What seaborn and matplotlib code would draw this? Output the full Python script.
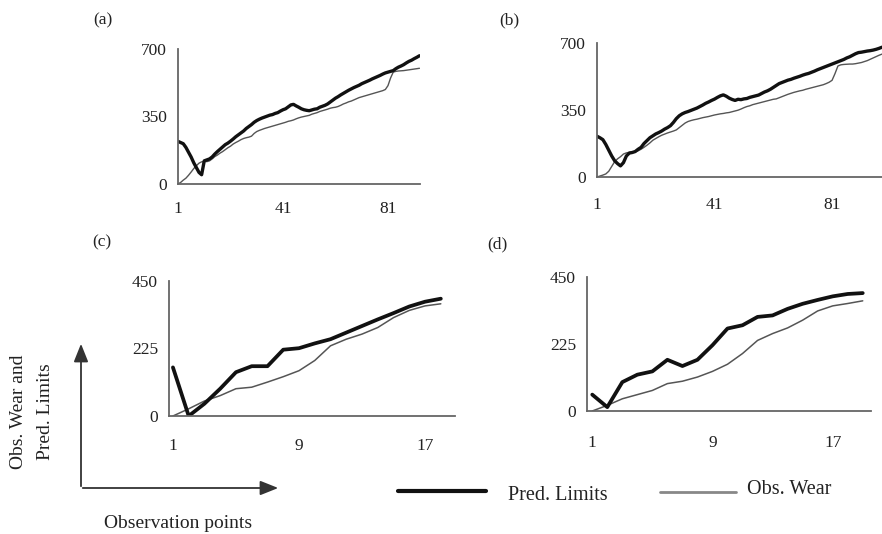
import numpy as np
import pandas as pd
import matplotlib
matplotlib.use("Agg")
import matplotlib.pyplot as plt
import seaborn as sns
from matplotlib.lines import Line2D
from matplotlib.patches import FancyArrowPatch

# ---------------- data ----------------
pred_a = [221, 215, 209, 190, 165, 140, 110, 85, 60, 48, 120, 125, 130, 140, 155, 168, 180, 192, 204, 212,
          222, 233, 245, 255, 265, 275, 288, 298, 308, 320, 329, 336, 342, 347, 352, 357, 360, 366, 370, 378,
          385, 390, 400, 410, 413, 405, 398, 390, 385, 382, 380, 384, 388, 390, 398, 403, 408, 415, 425, 435,
          445, 453, 462, 470, 478, 486, 493, 500, 506, 512, 520, 526, 532, 538, 545, 551, 557, 563, 570, 576,
          580, 584, 588, 598, 606, 612, 619, 628, 636, 642, 650, 657, 665]
obs_a = [0, 8, 20, 30, 45, 62, 80, 95, 108, 115, 117, 116, 120, 130, 142, 150, 160, 168, 178, 188,
         196, 207, 215, 222, 230, 236, 240, 243, 248, 262, 272, 278, 283, 288, 292, 296, 300, 304, 308, 312,
         316, 320, 325, 328, 332, 338, 343, 347, 350, 353, 356, 362, 366, 370, 376, 380, 384, 388, 393, 396,
         398, 402, 408, 415, 420, 426, 430, 436, 442, 448, 452, 456, 460, 464, 468, 472, 476, 480, 484, 490,
         510, 550, 580, 584, 586, 587, 588, 590, 592, 594, 596, 598, 600]

pred_b = [213, 205, 195, 170, 140, 110, 85, 70, 58, 75, 110, 125, 128, 133, 145, 155, 175, 190, 205, 215,
          225, 232, 240, 250, 258, 268, 285, 305, 320, 330, 337, 342, 348, 354, 360, 368, 376, 385, 392, 400,
          407, 416, 424, 429, 422, 412, 405, 400, 406, 404, 408, 410, 416, 420, 424, 428, 436, 444, 450, 458,
          468, 478, 488, 494, 500, 506, 510, 516, 521, 526, 532, 537, 541, 547, 553, 560, 566, 572, 578, 584,
          590, 596, 602, 608, 614, 622, 628, 636, 644, 650, 652, 655, 658, 660, 663, 667, 672, 678]
obs_b = [0, 5, 10, 16, 30, 55, 80, 95, 106, 120, 126, 129, 131, 132, 137, 145, 155, 166, 178, 192,
         201, 210, 218, 224, 230, 235, 240, 246, 258, 270, 282, 290, 295, 299, 302, 306, 310, 313, 316, 320,
         324, 327, 330, 332, 335, 337, 341, 345, 349, 355, 362, 368, 372, 378, 382, 386, 390, 394, 398, 402,
         406, 408, 414, 420, 426, 432, 437, 442, 446, 450, 453, 458, 462, 466, 470, 474, 478, 482, 488, 495,
         505, 540, 580, 586, 588, 589, 590, 590, 592, 595, 598, 603, 608, 615, 622, 629, 636, 642]

pred_c = [162, 0, 41, 91, 146, 166, 166, 221, 226, 242, 256, 278, 300, 322, 343, 365, 381, 391]
obs_c = [0, 24, 50, 68, 91, 96, 113, 131, 151, 185, 234, 256, 273, 295, 328, 352, 367, 374]

pred_d = [55, 13, 97, 122, 133, 172, 151, 172, 221, 277, 288, 316, 321, 343, 360, 373, 385, 393, 396]
obs_d = [0, 19, 41, 55, 69, 92, 100, 114, 133, 157, 193, 237, 260, 279, 305, 336, 353, 361, 370]

panel_labels = ["(a)", "(b)", "(c)", "(d)"]
yticks_ab = [0, 350, 700]
yticks_cd = [0, 225, 450]
xlabels_ab = [1, 41, 81]
xlabels_cd = [1, 9, 17]
legend_labels = ["Pred. Limits", "Obs. Wear"]
ylab_lines = ["Obs. Wear and", "Pred. Limits"]
xlab_text = "Observation points"

# ---------------- styling ----------------
sns.set_theme(style="white")
plt.rcParams['font.family'] = ['Liberation Serif', 'DejaVu Serif']

W, H = 882, 534
fig = plt.figure(figsize=(8.82, 5.34), dpi=100)


def box(l, t, r, b):
    return [l / W, 1 - b / H, (r - l) / W, (b - t) / H]


def fx(x):
    return x / W


def fy(y):
    return 1 - y / H


AX_COL = "#666666"
TXT_COL = "#222222"
PRED_COL = "#111111"
OBS_COL = "#555555"

panels = [
    dict(pred=pred_a, obs=obs_a, rect=box(178, 49, 420, 184), xlim=(1, 93.2), ylim=(0, 700),
         yt=yticks_ab, xl=xlabels_ab, xt=[1, 21, 41, 61, 81], pad=9, lw=(2.4, 1.0),
         lab=(103, 20)),
    dict(pred=pred_b, obs=obs_b, rect=box(597, 43, 882, 177), xlim=(1, 98), ylim=(0, 700),
         yt=yticks_ab, xl=xlabels_ab, xt=[1, 41, 81], pad=11.5, lw=(2.4, 1.0),
         lab=(509, 20)),
    dict(pred=pred_c, obs=obs_c, rect=box(169, 281, 455, 416), xlim=(0.75, 18.9), ylim=(0, 450),
         yt=yticks_cd, xl=xlabels_cd, xt=[1, 9, 17], pad=13, lw=(2.7, 1.1),
         lab=(102, 242)),
    dict(pred=pred_d, obs=obs_d, rect=box(587, 277, 871, 411), xlim=(0.65, 19.55), ylim=(0, 450),
         yt=yticks_cd, xl=xlabels_cd, xt=[5.82, 11.14, 16.4], pad=14, lw=(2.7, 1.1),
         lab=(497, 244)),
]

for i, p in enumerate(panels):
    ax = fig.add_axes(p["rect"])
    n = len(p["pred"])
    df = pd.DataFrame({"x": np.arange(1, n + 1), "pred": p["pred"], "obs": p["obs"]})
    sns.lineplot(data=df, x="x", y="obs", ax=ax, color=OBS_COL, linewidth=p["lw"][1], clip_on=True)
    sns.lineplot(data=df, x="x", y="pred", ax=ax, color=PRED_COL, linewidth=p["lw"][0], clip_on=True)
    ax.set_xlim(*p["xlim"])
    ax.set_ylim(*p["ylim"])
    ax.set_xlabel("")
    ax.set_ylabel("")
    for s in ["top", "right"]:
        ax.spines[s].set_visible(False)
    for s in ["left", "bottom"]:
        ax.spines[s].set_color(AX_COL)
        ax.spines[s].set_linewidth(1.3)
    ax.set_yticks(p["yt"])
    ax.set_yticklabels([str(v) for v in p["yt"]])
    # labels on major ticks (no marks), marks on minor ticks
    ax.set_xticks(p["xl"])
    ax.set_xticklabels([str(v) for v in p["xl"]])
    ax.set_xticks(p["xt"], minor=True)
    ax.tick_params(axis="x", which="major", length=0, pad=p["pad"] + 3,
                   labelsize=12.5, labelcolor=TXT_COL)
    ax.tick_params(axis="x", which="minor", length=4, width=1.3, color=AX_COL, direction="out")
    ax.tick_params(axis="y", which="major", length=4, width=1.3, color=AX_COL, direction="out",
                   pad=4, labelsize=12.5, labelcolor=TXT_COL)
    ax.patch.set_alpha(0)
    ax.grid(False)
    fig.text(fx(p["lab"][0]), fy(p["lab"][1]), panel_labels[i], ha="center", va="center",
             fontsize=12.5, color=TXT_COL)

# ---------------- schematic axes (bottom-left) ----------------
fig.add_artist(FancyArrowPatch((fx(81), fy(489)), (fx(81), fy(341)), transform=fig.transFigure,
                               arrowstyle="-|>,head_length=0.55,head_width=0.22", mutation_scale=20,
                               color="#333333", linewidth=1.3))
fig.add_artist(FancyArrowPatch((fx(80), fy(488)), (fx(281), fy(488)), transform=fig.transFigure,
                               arrowstyle="-|>,head_length=0.55,head_width=0.22", mutation_scale=20,
                               color="#333333", linewidth=1.3))
fig.text(fx(19), fy(412), ylab_lines[0], rotation=90, ha="center", va="center", fontsize=14,
         color=TXT_COL)
fig.text(fx(45), fy(412), ylab_lines[1], rotation=90, ha="center", va="center", fontsize=14,
         color=TXT_COL)
fig.text(fx(178), fy(524), xlab_text, ha="center", va="center", fontsize=14, color=TXT_COL)

# ---------------- legend ----------------
fig.add_artist(Line2D([fx(398), fx(486)], [fy(491), fy(491)], transform=fig.transFigure,
                      color=PRED_COL, linewidth=3.0))
fig.text(fx(508), fy(495), legend_labels[0], ha="left", va="center", fontsize=14.5, color=TXT_COL)
fig.add_artist(Line2D([fx(660), fx(736)], [fy(492), fy(492)], transform=fig.transFigure,
                      color="#888888", linewidth=2.0))
fig.text(fx(747), fy(490), legend_labels[1], ha="left", va="center", fontsize=14.5, color=TXT_COL)

fig.savefig("out.png", dpi=100)
